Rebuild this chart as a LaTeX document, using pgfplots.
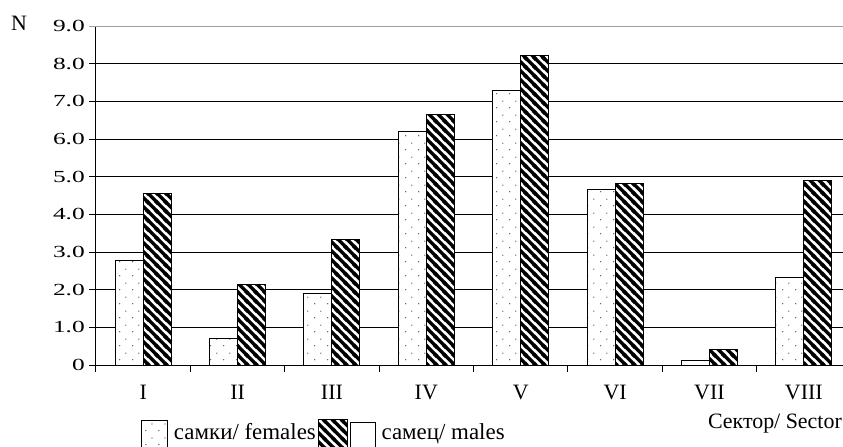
\documentclass[border=0pt]{standalone}
\usepackage{pgfplots}
\pgfplotsset{compat=1.18}
\usepackage{fontspec}
\setmainfont{Liberation Serif}
\newfontfamily\ytf[FakeStretch=1.5]{Liberation Serif}
\usetikzlibrary{patterns.meta}

% sparse staggered dots (females)
\tikzdeclarepattern{
  name=sdots,
  type=uncolored,
  bounding box={(0bp,0bp) and (13bp,14bp)},
  tile size={(13bp,14bp)},
  code={
    \fill (3bp,3.5bp) circle (0.7bp);
    \fill (9.5bp,10.5bp) circle (0.7bp);
  }
}
% thick back-slash hatching (males)
\tikzdeclarepattern{
  name=nwthick,
  type=uncolored,
  bounding box={(0bp,0bp) and (9.3bp,9.3bp)},
  tile size={(9.3bp,9.3bp)},
  code={
    \draw[line width=3.6bp] (-2bp,11.3bp) -- (11.3bp,-2bp);
    \draw[line width=3.6bp] (-4.65bp,4.65bp) -- (4.65bp,-4.65bp);
    \draw[line width=3.6bp] (4.65bp,13.95bp) -- (13.95bp,4.65bp);
  }
}

\begin{document}
\begin{tikzpicture}
\begin{axis}[
  at={(0,0)}, anchor=south west,
  scale only axis, width=755bp, height=339bp,
  clip=false,
  xmin=0, xmax=8, ymin=0, ymax=9,
  axis x line*=bottom, axis y line*=left,
  axis line style={-, line width=1bp, black},
  ybar=0pt, bar width=28bp,
  tick align=outside,
  major tick length=6.5bp,
  tick style={line width=1bp, black},
  xtick={0,...,8}, xticklabels={},
  extra x ticks={0.5,1.5,...,7.5},
  extra x tick labels={I,II,III,IV,V,VI,VII,VIII},
  extra x tick style={major tick length=0pt,
    xticklabel style={font=\fontsize{22}{24}\selectfont, anchor=north, inner sep=0pt, yshift=-20bp}},
  ytick={0,...,8},
  yticklabels={0,1.0,2.0,3.0,4.0,5.0,6.0,7.0,8.0},
  extra y ticks={9}, extra y tick labels={9.0},
  extra y tick style={ymajorgrids=true, major grid style={gray!75, line width=1bp}, tick style={gray!75}},
  yticklabel style={font=\ytf\fontsize{17}{18}\selectfont, anchor=east, inner sep=0pt, xshift=-4.5bp},
  ymajorgrids,
  major grid style={black, line width=1bp},
  legend columns=2,
  legend style={at={(0.0592,-0.159)}, anchor=north west, draw=none, fill=none,
    inner sep=0pt, outer sep=0pt,
    font=\fontsize{23}{24}\selectfont,
    nodes={inner sep=0pt},
    /tikz/every odd column/.append style={column sep=6bp},
    /tikz/every even column/.append style={column sep=2bp}},
]
\addplot[draw=black, line width=1bp, fill=white, bar shift=-14bp, forget plot,
  postaction={pattern=sdots, pattern color=black!80}]
  coordinates {(0.5,2.77) (1.5,0.71) (2.5,1.90) (3.5,6.21) (4.5,7.30) (5.5,4.66) (6.5,0.13) (7.5,2.32)};
\addplot[draw=black, line width=1bp, fill=white, bar shift=14bp, forget plot,
  postaction={pattern=nwthick, pattern color=black}]
  coordinates {(0.5,4.54) (1.5,2.15) (2.5,3.33) (3.5,6.65) (4.5,8.23) (5.5,4.82) (6.5,0.42) (7.5,4.91)};
\addlegendimage{legend image code/.code={
    \draw[line width=1bp, fill=white] (0bp,-20bp) rectangle (26.3bp,12bp);
    \path[pattern=sdots, pattern color=black!80] (0bp,-20bp) rectangle (26.3bp,12bp);}}
\addlegendimage{legend image code/.code={
    \path[pattern=nwthick, pattern color=black] (0bp,-20bp) rectangle (29bp,13bp);
    \draw[line width=1bp, fill=white] (32.7bp,-20bp) rectangle (57bp,9.3bp);}}
\legend{самки/ females, самец/ males}
\node[font=\fontsize{22}{24}\selectfont] at (rel axis cs:0,1) [xshift=-77bp, yshift=3bp] {N};
\node[anchor=base east, inner sep=0pt, font=\fontsize{22}{24}\selectfont]
  at (rel axis cs:1,0) [xshift=-9bp, yshift=-63.5bp] {Сектор/ Sector};
\end{axis}
\pgfresetboundingbox
\useasboundingbox (-96bp,-82bp) rectangle (747bp,365bp);
\end{tikzpicture}
\end{document}
